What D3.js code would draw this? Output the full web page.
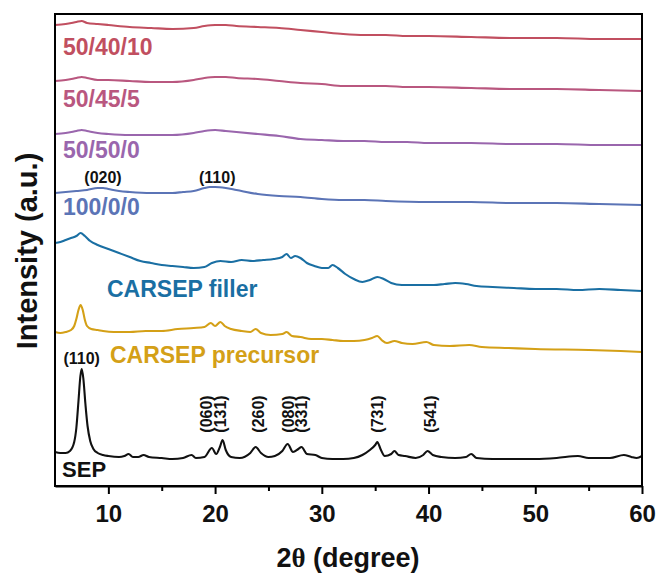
<!DOCTYPE html>
<html>
<head>
<meta charset="utf-8">
<script src="https://cdn.jsdelivr.net/npm/d3@7"></script>
<style>
  body { margin: 0; background: #fff; }
  text { font-family: Arial, "Liberation Sans", sans-serif; }
</style>
</head>
<body>
<div id="chart"></div>
<script>
// 2theta (degree) and intensity (a.u., stacked offsets included)
const sep = [[5.0,34],[5.5,33],[6.0,33],[6.4,35],[6.8,44],[7.0,58],[7.2,85],[7.38,110],[7.5,117],[7.65,108],[7.85,82],[8.05,60],[8.3,45],[8.6,37],[9.0,33],[9.5,31],[10,30],[11,29],[11.5,30],[11.9,32],[12.3,29],[12.8,29],[13.3,31],[13.8,29],[15,28],[16,27],[17,28],[17.8,31],[18.2,28],[19,29],[19.7,38],[20.1,32],[20.45,39],[20.7,46],[21.0,36],[21.5,29],[22.3,28],[23.3,33],[23.8,39],[24.3,33],[25,29],[25.6,30],[26.3,35],[26.8,42],[27.3,34],[27.8,37],[28.1,39],[28.6,32],[29.4,31],[30,28],[31,27],[32,27],[33,28],[33.8,31],[34.5,36],[35.0,41],[35.2,44],[35.5,37],[35.9,30],[36.5,32],[36.8,35],[37.2,31],[37.8,30],[38.8,28],[39.5,31],[39.9,35],[40.4,31],[41.2,29],[42.5,28],[43.5,29],[44,32],[44.5,28],[46,27],[48,27],[50,27],[52,28],[54,30],[55,28],[57,28],[58.3,31],[59,29],[59.5,28],[60,30]]

const precursor = [[5.0,154],[5.5,153],[6.0,154],[6.5,156],[6.8,160],[7.0,167],[7.2,176],[7.4,181],[7.6,176],[7.8,166],[8.0,160],[8.4,157],[9.0,156],[9.5,155],[10.5,154],[12,154],[13.5,155],[15,155],[16.5,157],[18,158],[19,159],[19.6,163],[20.0,160],[20.5,164],[20.9,160],[21.5,157],[22.5,155],[23.3,154],[23.8,157],[24.3,153],[25.2,151],[26.3,152],[26.7,154],[27.2,150],[28.0,149],[29.0,147],[30.0,147],[31.0,146],[32.0,145],[33.0,145],[34.0,146],[34.7,148],[35.2,150],[35.6,146],[36.1,143],[36.8,145],[37.5,143],[38.5,142],[39.8,144],[40.5,141],[42,140],[43.8,141],[45,139],[47.5,138],[50,137],[55,136],[58,135],[60,134]]

const filler = [[5.0,243],[5.5,244],[6.0,246],[6.5,248],[7.0,250],[7.4,253],[7.8,250],[8.3,245],[9.0,241],[10,237],[11,233],[12,229],[13,225],[14,223],[15,221],[16,220],[17,219],[18,218],[19,219],[19.7,223],[20.5,225],[21.5,224],[22.5,226],[23.5,225],[24.5,226],[25.5,227],[26.3,229],[26.7,232],[27.1,228],[27.5,230],[28.0,228],[28.6,223],[29.3,220],[30,218],[30.6,218],[31.0,221],[31.5,218],[32.2,212],[33.0,207],[33.8,204],[34.5,206],[35.2,209],[35.8,207],[36.5,203],[37.5,201],[38.5,201],[39.5,201],[40.5,201],[41.5,202],[42.5,203],[43.5,202],[44.5,200],[46,199],[48,198],[50,197],[52,197],[54,196],[56,197],[58,196],[60,195]]

const s100_0_0 = [[5,293],[6,294],[7,295],[8,296],[9,298],[9.5,298],[10,297],[11,295],[12,294],[14,293],[16,293],[17,294],[18,295],[19,298],[19.5,299],[20,299],[21,298],[22,296],[24,292],[26,290],[28,289],[30,287],[32,286],[34,286],[36,285],[40,284],[44,284],[48,283],[52,283],[56,282],[60,281]]

const s50_50_0 = [[5,352],[6,353],[7,355],[7.5,356],[8,355],[9,353],[10,352],[12,351],[14,351],[16,351],[18,353],[19,355],[20,356],[21,355],[22,354],[24,352],[26,350],[28,347],[30,346],[32,345],[34,345],[36,344],[38,344],[40,343],[44,343],[48,342],[52,342],[56,341],[60,341]]

const s50_45_5 = [[5,405],[6,406],[7,408],[7.5,409],[8,408],[9,406],[10,406],[12,405],[14,404],[16,404],[18,406],[19,408],[20,409],[21,409],[22,408],[24,407],[26,405],[28,403],[30,402],[32,400],[34,400],[36,400],[38,399],[40,399],[44,398],[48,397],[52,397],[56,396],[60,395]]

const s50_40_10 = [[5,461],[6,462],[7,464],[7.5,465],[8,463],[9,462],[10,461],[12,459],[14,458],[16,457],[18,458],[19,460],[20,461],[21,461],[22,460],[24,459],[26,458],[28,456],[30,454],[32,452],[34,451],[36,451],[38,450],[40,450],[44,449],[48,448],[52,448],[56,447],[60,447]]

const seriesNames = ['SEP', 'CARSEP precursor', 'CARSEP filler', '100/0/0', '50/50/0', '50/45/5', '50/40/10']
const seriesData = [sep, precursor, filler, s100_0_0, s50_50_0, s50_45_5, s50_40_10]
const seriesColors = ['#111111', '#d4a017', '#1a6fa3', '#5b74b6', '#9a66ad', '#b9577f', '#c14f60']

// where each series name sits: [2theta, a.u.]
const seriesLabelPos = [[5.66, 9], [10.15, 123], [9.87, 189], [5.75, 271], [5.75, 328], [5.75, 379], [5.75, 431]]

// peak indices
const sepPeaks = ['(060)', '(131)', '(260)', '(080)', '(331)', '(731)', '(541)']
const sepPeakPos = [19.2, 20.5, 24.1, 26.9, 28.1, 35.2, 40.2]
const topPeaks = ['(020)', '(110)']
const topPeakPos = [9.5, 20.2]

const xTicks = [10, 20, 30, 40, 50, 60]
const xMinorTicks = [15, 25, 35, 45, 55]

var width = 659, height = 577
var margin = {left: 55, right: 17, top: 14, bottom: 91}

var svg = d3.select('#chart')
  .append('svg')
    .attr('width', width)
    .attr('height', height)

var x = d3.scaleLinear()
    .domain([5, 60])
    .range([margin.left, width - margin.right])

var y = d3.scaleLinear()
    .domain([0, 472])
    .range([height - margin.bottom, margin.top])

var line = d3.line()
    .x(d => x(d[0]))
    .y(d => y(d[1]))
    .curve(d3.curveMonotoneX)

svg.append('g')
  .selectAll('path')
  .data(seriesData)
  .join('path')
    .attr('d', d => line(d))
    .attr('fill', 'none')
    .attr('stroke', (d, i) => seriesColors[i])
    .attr('stroke-width', 2.1)
    .attr('stroke-linejoin', 'round')

// frame
svg.append('rect')
    .attr('x', x(5))
    .attr('y', y(472))
    .attr('width', x(60) - x(5))
    .attr('height', y(0) - y(472))
    .attr('fill', 'none')
    .attr('stroke', '#000')
    .attr('stroke-width', 2)

var xAxis = svg.append('g')
    .attr('transform', `translate(0, ${y(0)})`)
    .call(d3.axisBottom(x).tickValues(xTicks).tickSize(8).tickPadding(11).tickSizeOuter(0))
xAxis.select('.domain').attr('stroke-width', 2)
xAxis.selectAll('.tick line').attr('stroke-width', 2)
xAxis.selectAll('text')
    .attr('font-size', 24)
    .attr('font-weight', 'bold')
    .attr('font-family', 'Arial, "Liberation Sans", sans-serif')
    .attr('fill', '#111')

var xMinor = svg.append('g')
    .attr('transform', `translate(0, ${y(0)})`)
    .call(d3.axisBottom(x).tickValues(xMinorTicks).tickSize(5).tickFormat('').tickSizeOuter(0))
xMinor.select('.domain').remove()
xMinor.selectAll('.tick line').attr('stroke-width', 2)

// series names
svg.append('g')
  .selectAll('text')
  .data(seriesNames)
  .join('text')
    .text(d => d)
    .attr('x', (d, i) => x(seriesLabelPos[i][0]))
    .attr('y', (d, i) => y(seriesLabelPos[i][1]))
    .attr('fill', (d, i) => seriesColors[i])
    .attr('font-size', (d, i) => i == 0 ? 22 : 23)
    .attr('font-weight', 'bold')

// peak labels on SEP (vertical)
svg.append('g')
  .selectAll('text')
  .data(sepPeaks)
  .join('text')
    .text(d => d)
    .attr('transform', (d, i) => `translate(${x(sepPeakPos[i])}, ${y(72)}) rotate(-90)`)
    .attr('text-anchor', 'middle')
    .attr('dominant-baseline', 'central')
    .attr('font-size', 16)
    .attr('font-weight', 'bold')
    .attr('fill', '#111')

svg.append('text')
    .text('(110)')
    .attr('x', x(7.5))
    .attr('y', y(122))
    .attr('text-anchor', 'middle')
    .attr('font-size', 16)
    .attr('font-weight', 'bold')
    .attr('fill', '#111')

svg.append('g')
  .selectAll('text')
  .data(topPeaks)
  .join('text')
    .text(d => d)
    .attr('x', (d, i) => x(topPeakPos[i]))
    .attr('y', y(303))
    .attr('text-anchor', 'middle')
    .attr('font-size', 16)
    .attr('font-weight', 'bold')
    .attr('fill', '#111')

// axis titles
var xTitle = svg.append('text')
    .attr('x', 348)
    .attr('y', 567)
    .attr('text-anchor', 'middle')
    .attr('font-size', 27)
    .attr('font-weight', 'bold')
    .attr('fill', '#111')
xTitle.append('tspan').text('2')
xTitle.append('tspan').text('θ').attr('font-family', '"Liberation Serif", "DejaVu Serif", serif')
xTitle.append('tspan').text(' (degree)')

svg.append('text')
    .text('Intensity (a.u.)')
    .attr('transform', `translate(37, ${y(235)}) rotate(-90)`)
    .attr('text-anchor', 'middle')
    .attr('font-size', 29)
    .attr('font-weight', 'bold')
    .attr('fill', '#111')
</script>
</body>
</html>
